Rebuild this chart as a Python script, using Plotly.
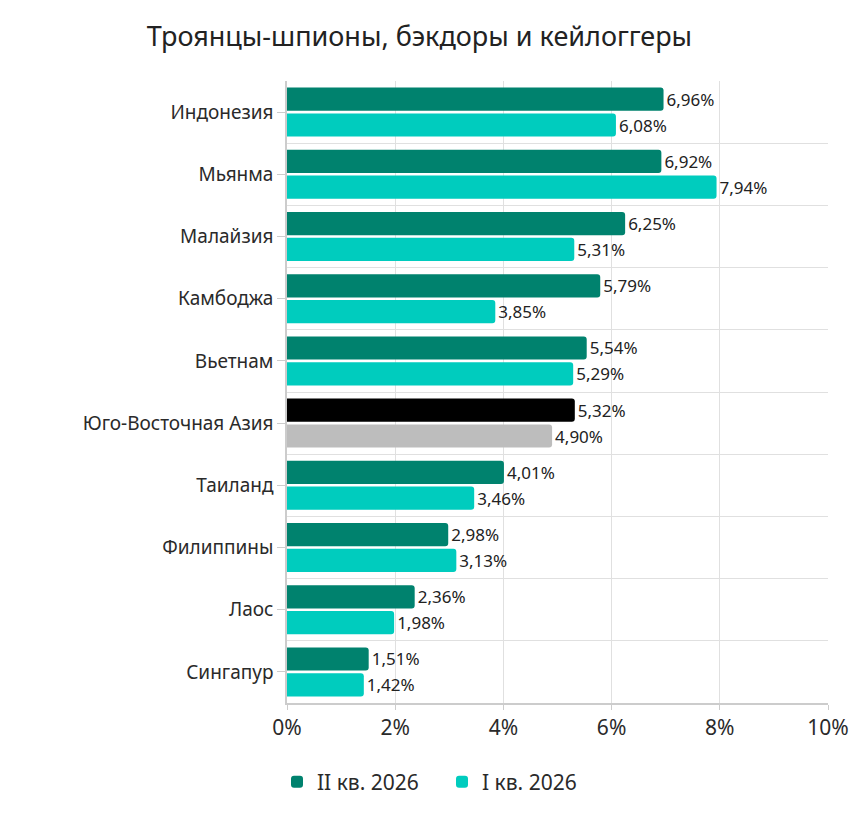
import plotly.graph_objects as go

countries = ["Индонезия", "Мьянма", "Малайзия", "Камбоджа", "Вьетнам",
             "Юго-Восточная Азия", "Таиланд", "Филиппины", "Лаос", "Сингапур"]
q2_2026 = [6.96, 6.92, 6.25, 5.79, 5.54, 5.32, 4.01, 2.98, 2.36, 1.51]
q1_2026 = [6.08, 7.94, 5.31, 3.85, 5.29, 4.90, 3.46, 3.13, 1.98, 1.42]
series_names = ["II кв. 2026", "I кв. 2026"]
x_ticks = [0, 2, 4, 6, 8, 10]

DARK = "#00826E"
TEAL = "#00CCBE"
REGION = "Юго-Восточная Азия"

def fmt(v):
    return ("%.2f%%" % v).replace(".", ",")

pos = list(range(len(countries)))
dark_colors = ["#000000" if c == REGION else DARK for c in countries]
teal_colors = ["#BDBDBD" if c == REGION else TEAL for c in countries]

fig = go.Figure()
for name, vals, cols in [(series_names[0], q2_2026, dark_colors),
                         (series_names[1], q1_2026, teal_colors)]:
    fig.add_trace(go.Bar(
        y=pos, x=vals, orientation="h", name=name,
        marker=dict(color=cols, cornerradius=3, line=dict(width=0)),
        text=[fmt(v) for v in vals], textposition="outside",
        textfont=dict(size=17, color="#222222"), cliponaxis=False,
    ))

fig.update_layout(
    width=868, height=820,
    paper_bgcolor="white", plot_bgcolor="white",
    font=dict(family="Noto Sans, sans-serif", color="#2A2A2A", size=19),
    title=dict(text="Троянцы-шпионы, бэкдоры и кейлоггеры",
               x=0.474, xanchor="center", y=0.965, yanchor="middle",
               font=dict(size=27, color="#222222")),
    barmode="group", bargap=0.17, bargroupgap=0.1,
    margin=dict(l=279, r=48, t=73, b=125),
    legend=dict(orientation="h", xref="container", yref="container",
                x=0.5, xanchor="center", y=0.056, yanchor="middle",
                font=dict(size=21, color="#2A2A2A"), traceorder="normal",
                itemsizing="constant", entrywidth=120),
    showlegend=True,
)

fig.update_xaxes(
    range=[0, 10], tickvals=x_ticks, ticktext=["%d%%" % t for t in x_ticks],
    showgrid=True, gridcolor="#E0E0E0", gridwidth=1,
    showline=True, linecolor="#CCCCCC", linewidth=1.5,
    ticks="outside", ticklen=5, tickcolor="#CCCCCC",
    tickfont=dict(size=21), zeroline=False, fixedrange=True,
)
fig.update_yaxes(
    range=[len(countries) - 0.5, -0.5], tickvals=pos, ticktext=countries,
    showgrid=False, showline=True, linecolor="#CCCCCC", linewidth=1.5,
    ticks="outside", ticklen=8, tickcolor="#CCCCCC",
    zeroline=False,
    minor=dict(tickvals=[p + 0.5 for p in pos[:-1]], showgrid=True,
               gridcolor="#E0E0E0", gridwidth=1, ticks=""),
)

fig.write_html("out.html")
